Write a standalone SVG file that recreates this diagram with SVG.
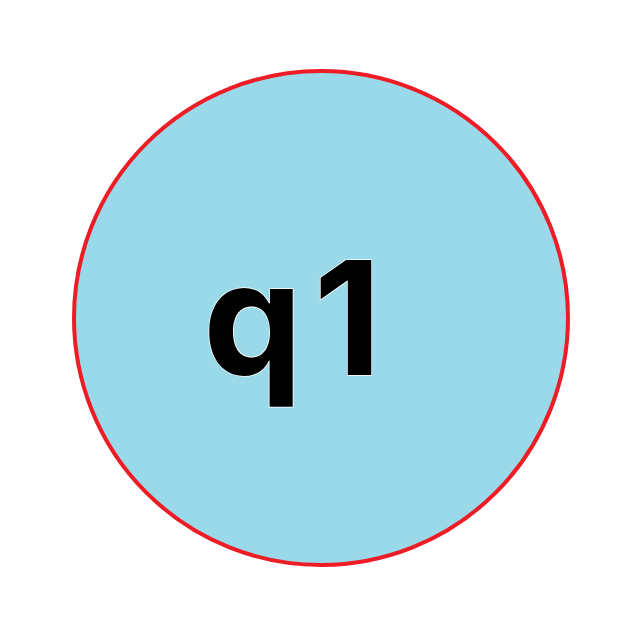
<svg xmlns="http://www.w3.org/2000/svg" width="644" height="644" viewBox="0 0 644 644">
<style>
.node circle{fill:#9AD9EA;stroke:#EE1C25;stroke-width:4}
.node text{font-family:Inter,"Liberation Sans",Arial,sans-serif;font-weight:bold;font-size:158px;fill:#000;stroke:#fff;stroke-width:1.5;paint-order:stroke}
</style>
<rect width="644" height="644" fill="#fff"/>
<g id="connectors"></g>
<g id="q1" class="node">
<circle cx="321" cy="318" r="247"/>
<text x="203" y="375">q<tspan dx="11">1</tspan></text>
</g>
</svg>
